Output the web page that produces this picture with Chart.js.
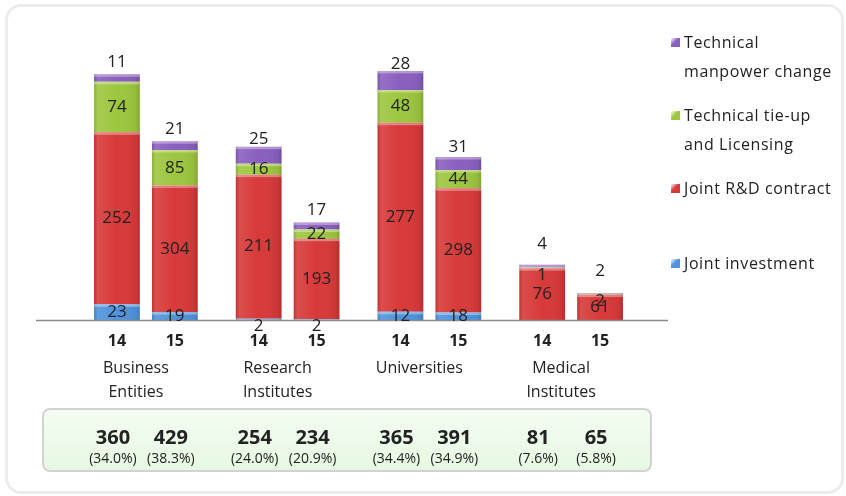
<!DOCTYPE html>
<html>
<head>
<meta charset="utf-8">
<script src="https://cdn.jsdelivr.net/npm/chart.js@4"></script>
<style>
  html, body { margin: 0; padding: 0; background: #fff; }
  #wrap { position: relative; width: 846px; height: 496px; overflow: hidden; font-family: "Open Sans", sans-serif; color: #222; }
  #frame { position: absolute; left: 5px; top: 4px; width: 833px; height: 484px; border: 3px solid #ececec; border-radius: 16px; }
  #totalsBox { position: absolute; left: 42px; top: 408px; width: 606px; height: 60px; border: 2px solid #d2d2d2; border-radius: 8px;
               background: linear-gradient(#f3fdf1, #e6f8e2); }
  canvas { position: absolute; left: 0; top: 0; }
  #legend { position: absolute; left: 671px; top: 28px; font-size: 16px; letter-spacing: 0.6px; }
  .item { position: absolute; left: 0; white-space: nowrap; line-height: 29px; }
  .sw { position: absolute; left: 0; top: 10px; width: 9px; height: 9px; }
  .txt { margin-left: 13px; }
</style>
</head>
<body>
<div id="wrap">
  <div id="frame"></div>
  <div id="totalsBox"></div>
  <canvas id="chart" width="846" height="496"></canvas>
  <div id="legend"></div>
</div>
<script>
(function () {
  'use strict';

  var CATEGORIES = [['Business', 'Entities'], ['Research', 'Institutes'], ['Universities'], ['Medical', 'Institutes']];
  var YEARS = ['14', '15'];
  var SERIES = ['Joint investment', 'Joint R&D contract', 'Technical tie-up and Licensing', 'Technical manpower change'];
  var LEGEND_LINES = [['Joint investment'], ['Joint R&D contract'], ['Technical tie-up', 'and Licensing'], ['Technical', 'manpower change']];
  var COLORS = ['#4f93dc', '#d83939', '#9dc63f', '#8a5fbf'];

  // values per category: Business, Research, Universities, Medical
  var invest14 = [23, 2, 12, 0];
  var invest15 = [19, 2, 18, 0];
  var rnd14 = [252, 211, 277, 76];
  var rnd15 = [304, 193, 298, 61];
  var tieup14 = [74, 16, 48, 1];
  var tieup15 = [85, 22, 44, 2];
  var manpower14 = [11, 25, 28, 4];
  var manpower15 = [21, 17, 31, 2];

  var totals14 = [360, 254, 365, 81];
  var totals15 = [429, 234, 391, 65];
  var share14 = ['34.0%', '24.0%', '34.4%', '7.6%'];
  var share15 = ['38.3%', '20.9%', '34.9%', '5.8%'];

  var values = [[invest14, invest15], [rnd14, rnd15], [tieup14, tieup15], [manpower14, manpower15]];

  var datasets = [];
  SERIES.forEach(function (name, s) {
    YEARS.forEach(function (yr, k) {
      datasets.push({
        label: name,
        data: values[s][k],
        stack: yr,
        yAxisID: k === 0 ? 'y' : 'y2',
        backgroundColor: COLORS[s],
        borderWidth: 0,
        seriesIndex: s,
        yearIndex: k
      });
    });
  });

  var FONT = '"Open Sans", sans-serif';

  var decorPlugin = {
    id: 'decor',
    afterDatasetsDraw: function (chart) {
      var ctx = chart.ctx;
      var area = chart.chartArea;
      var barsByYear = [[], []];

      // bevel shading on each segment
      chart.data.datasets.forEach(function (ds, di) {
        var meta = chart.getDatasetMeta(di);
        meta.data.forEach(function (bar, i) {
          if (ds.seriesIndex === 0) barsByYear[ds.yearIndex][i] = bar;
          if (!ds.data[i]) return;
          var l = bar.x - bar.width / 2, t = bar.y, h = bar.base - bar.y;
          var g = ctx.createLinearGradient(l, 0, l + bar.width, 0);
          g.addColorStop(0, 'rgba(0,0,0,0.12)');
          g.addColorStop(0.08, 'rgba(255,255,255,0.10)');
          g.addColorStop(0.5, 'rgba(255,255,255,0)');
          g.addColorStop(0.92, 'rgba(0,0,0,0.06)');
          g.addColorStop(1, 'rgba(0,0,0,0.18)');
          ctx.fillStyle = g;
          ctx.fillRect(l, t, bar.width, h);
          ctx.fillStyle = 'rgba(255,255,255,0.35)';
          ctx.fillRect(l, t, bar.width, Math.min(2.5, h));
        });
      });

      // baseline
      ctx.save();
      ctx.strokeStyle = '#8a8a8a';
      ctx.lineWidth = 1.5;
      ctx.beginPath();
      ctx.moveTo(area.left - 39, area.bottom + 0.5);
      ctx.lineTo(area.right + 26, area.bottom + 0.5);
      ctx.stroke();

      // value labels
      ctx.textAlign = 'center';
      ctx.textBaseline = 'middle';
      ctx.font = '17px ' + FONT;
      ctx.fillStyle = '#222';
      chart.data.datasets.forEach(function (ds, di) {
        var meta = chart.getDatasetMeta(di);
        meta.data.forEach(function (bar, i) {
          var v = ds.data[i];
          if (!v) return;
          var h = bar.base - bar.y;
          var y = (bar.y + bar.base) / 2;
          if (ds.seriesIndex === 3) y -= (h < 3 ? 22 : 16);
          else if (ds.seriesIndex === 2 && h < 3) y += 7;
          else if (ds.seriesIndex === 0 && h < 3) y = bar.base + 6;
          ctx.fillText(String(v), bar.x, y);
        });
      });

      // year labels, category names, totals
      var totals = [totals14, totals15];
      var shares = [share14, share15];
      CATEGORIES.forEach(function (cat, i) {
        var b14 = barsByYear[0][i], b15 = barsByYear[1][i];
        [b14, b15].forEach(function (bar, k) {
          ctx.font = 'bold 16px ' + FONT;
          ctx.fillText(YEARS[k], bar.x, area.bottom + 21);
          ctx.font = 'bold 20px ' + FONT;
          ctx.fillText(String(totals[k][i]), bar.x - 4, area.bottom + 118);
          ctx.font = '14px ' + FONT;
          ctx.fillText('(' + shares[k][i] + ')', bar.x - 4, area.bottom + 139);
        });
        var cx = chart.scales.x.getPixelForValue(i);
        ctx.font = '16px ' + FONT;
        cat.forEach(function (line, j) {
          ctx.fillText(line, cx - 10, area.bottom + 48 + j * 24);
        });
      });
      ctx.restore();
    }
  };

  new Chart(document.getElementById('chart').getContext('2d'), {
    type: 'bar',
    data: { labels: CATEGORIES.map(function (c) { return c.join(' '); }), datasets: datasets },
    options: {
      responsive: false,
      animation: false,
      events: [],
      categoryPercentage: 0.817,
      barPercentage: 0.79,
      layout: { padding: { left: 75, right: 204, top: 47, bottom: 176 } },
      plugins: { legend: { display: false }, tooltip: { enabled: false } },
      scales: {
        x: { stacked: true, display: false, grid: { display: false } },
        y: { stacked: true, display: false, min: 0, max: 400 },
        y2: { stacked: true, display: false, min: 0, max: 655 }
      }
    },
    plugins: [decorPlugin]
  });

  // legend, top item first
  var tops = [221, 146, 73, 0];
  var legend = document.getElementById('legend');
  var html = '';
  for (var s = SERIES.length - 1; s >= 0; s--) {
    html += '<div class="item" style="top:' + tops[s] + 'px"><span class="sw" style="background:linear-gradient(135deg,#fff 0%,' +
      COLORS[s] + ' 45%,' + COLORS[s] + ' 100%)"></span><div class="txt">' + LEGEND_LINES[s].join('<br>') + '</div></div>';
  }
  legend.innerHTML = html;
})();
</script>
</body>
</html>
